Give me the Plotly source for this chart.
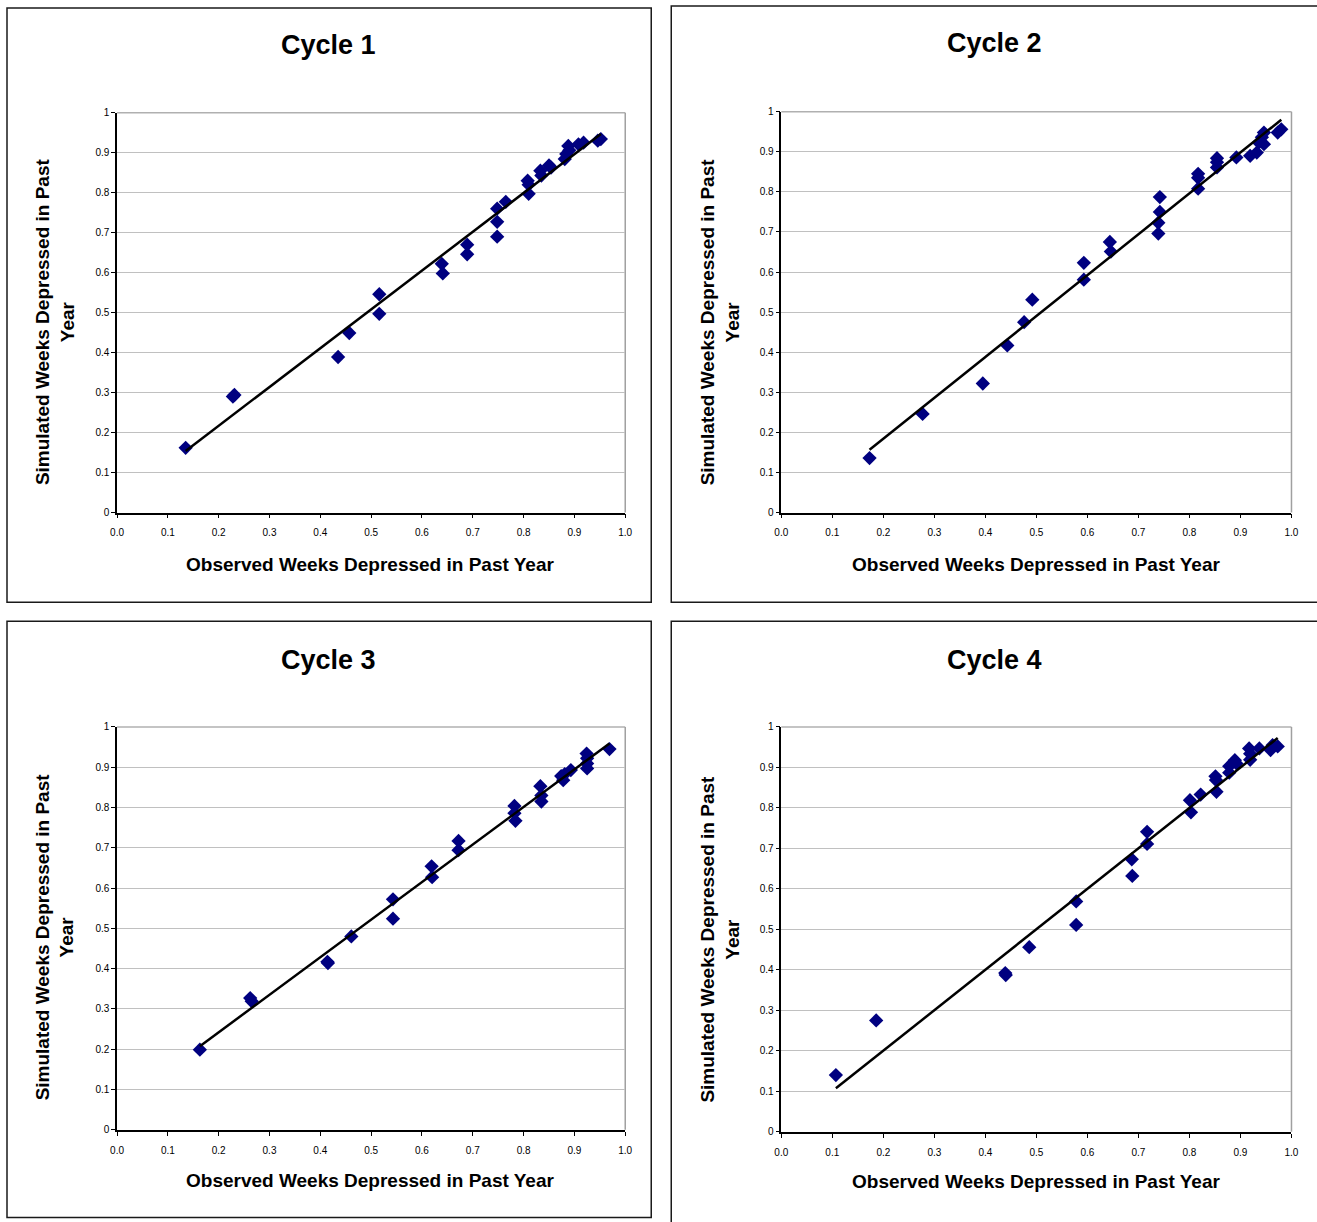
import numpy as np
import plotly.graph_objects as go

W, H = 1317, 1222

# ---------------- data ----------------
cycle_titles = ["Cycle 1", "Cycle 2", "Cycle 3", "Cycle 4"]
x_title = "Observed Weeks Depressed in Past Year"
y_title = "Simulated Weeks Depressed in Past<br>Year"

x_tick_vals = [0.0, 0.1, 0.2, 0.3, 0.4, 0.5, 0.6, 0.7, 0.8, 0.9, 1.0]
x_tick_text = ["0.0", "0.1", "0.2", "0.3", "0.4", "0.5", "0.6", "0.7", "0.8", "0.9", "1.0"]
y_tick_vals = [0.0, 0.1, 0.2, 0.3, 0.4, 0.5, 0.6, 0.7, 0.8, 0.9, 1.0]
y_tick_text = ["0", "0.1", "0.2", "0.3", "0.4", "0.5", "0.6", "0.7", "0.8", "0.9", "1"]

c1_obs = [0.135, 0.231, 0.228, 0.435, 0.457, 0.516, 0.516, 0.639, 0.641, 0.689, 0.689,
          0.748, 0.748, 0.748, 0.765, 0.808, 0.810, 0.810, 0.833, 0.835, 0.850, 0.854,
          0.881, 0.884, 0.888, 0.890, 0.908, 0.918, 0.946, 0.952]
c1_sim = [0.162, 0.294, 0.290, 0.389, 0.449, 0.546, 0.497, 0.622, 0.598, 0.670, 0.646,
          0.760, 0.727, 0.690, 0.777, 0.830, 0.820, 0.797, 0.855, 0.843, 0.868, 0.863,
          0.884, 0.897, 0.917, 0.906, 0.921, 0.925, 0.930, 0.934]

c2_obs = [0.173, 0.277, 0.395, 0.443, 0.476, 0.492, 0.593, 0.593, 0.644, 0.646,
          0.739, 0.739, 0.742, 0.742, 0.817, 0.817, 0.817, 0.854, 0.854, 0.854,
          0.892, 0.919, 0.932, 0.936, 0.942, 0.946, 0.946, 0.973, 0.980]
c2_sim = [0.136, 0.246, 0.322, 0.417, 0.475, 0.531, 0.581, 0.623, 0.675, 0.651,
          0.696, 0.723, 0.750, 0.787, 0.808, 0.835, 0.845, 0.861, 0.874, 0.884,
          0.886, 0.890, 0.898, 0.923, 0.936, 0.948, 0.919, 0.948, 0.956]

c3_obs = [0.163, 0.262, 0.265, 0.414, 0.415, 0.461, 0.543, 0.543, 0.619, 0.620,
          0.672, 0.672, 0.782, 0.782, 0.784, 0.833, 0.835, 0.835, 0.874, 0.878,
          0.881, 0.893, 0.924, 0.925, 0.925, 0.925, 0.969]
c3_sim = [0.199, 0.327, 0.319, 0.417, 0.414, 0.480, 0.572, 0.524, 0.654, 0.627,
          0.717, 0.694, 0.804, 0.786, 0.767, 0.853, 0.830, 0.815, 0.878, 0.868,
          0.883, 0.893, 0.934, 0.922, 0.909, 0.897, 0.945]

c4_obs = [0.107, 0.186, 0.439, 0.440, 0.486, 0.578, 0.578, 0.687, 0.688, 0.717,
          0.717, 0.801, 0.803, 0.822, 0.851, 0.852, 0.853, 0.878, 0.878, 0.889,
          0.892, 0.917, 0.919, 0.919, 0.937, 0.959, 0.963, 0.973]
c4_sim = [0.140, 0.275, 0.392, 0.387, 0.456, 0.569, 0.511, 0.673, 0.632, 0.741,
          0.711, 0.819, 0.789, 0.833, 0.878, 0.869, 0.840, 0.903, 0.887, 0.918,
          0.910, 0.947, 0.934, 0.919, 0.947, 0.943, 0.955, 0.952]

obs_series = [c1_obs, c2_obs, c3_obs, c4_obs]
sim_series = [c1_sim, c2_sim, c3_sim, c4_sim]

# ---------------- layout geometry (target pixels in the photo) ----------------
plot_px = [(117, 625, 112, 513), (781, 1291, 111, 513),
           (117, 625, 728, 1132), (781, 1291, 728, 1134)]
box_px = [(7, 651, 7, 603), (671, 1322, 5, 603),
          (7, 651, 622, 1220), (671, 1322, 622, 1228)]
title_px = [(328, 44), (994, 42), (328, 661), (994, 661)]
xtitle_px = [(370, 565), (1036, 565), (370, 1183), (1036, 1184)]
ytitle_px = [(55, 322), (720, 322), (55, 939), (720, 941)]

# the photographed page is slightly inset/scaled; compensate
OX, SX = 7.0, 0.989
OY, SY = 5.0, 0.993

def px(x):
    return ((x - OX) / SX) / W

def py(y):
    return 1 - ((y - OY) / SY) / H

FONT = "Arial, Liberation Sans, sans-serif"
NAVY = "#000080"

fig = go.Figure()
layout = dict(
    width=W, height=H, autosize=False,
    margin=dict(l=0, r=0, t=0, b=0),
    paper_bgcolor="white", plot_bgcolor="white",
    showlegend=False,
    font=dict(family=FONT, color="black"),
)
annotations = []
shapes = []

for i in range(4):
    n = "" if i == 0 else str(i + 1)
    xa, ya = "x" + n, "y" + n
    l, r, t, b = plot_px[i]
    xo = np.array(obs_series[i])
    yo = np.array(sim_series[i])

    fig.add_trace(go.Scatter(
        x=xo, y=yo, mode="markers", xaxis=xa, yaxis=ya,
        marker=dict(symbol="diamond", size=11, color=NAVY,
                    line=dict(width=0)),
        hoverinfo="x+y",
    ))
    # linear trendline (least squares), drawn across the observed range
    slope, icpt = np.polyfit(xo, yo, 1)
    xl = np.array([xo.min(), xo.max()])
    fig.add_trace(go.Scatter(
        x=xl, y=slope * xl + icpt, mode="lines", xaxis=xa, yaxis=ya,
        line=dict(color="black", width=2.5), hoverinfo="skip",
    ))

    layout["xaxis" + n] = dict(
        domain=[px(l), px(r)], anchor=ya, range=[0, 1],
        showgrid=False, zeroline=False,
        showline=True, linecolor="black", linewidth=1.5,
        ticks="outside", ticklen=4, tickcolor="black", tickwidth=1,
        tickvals=x_tick_vals, ticktext=x_tick_text,
        tickfont=dict(size=10, family=FONT, color="black"),
        ticklabelstandoff=6,
    )
    layout["yaxis" + n] = dict(
        domain=[py(b), py(t)], anchor=xa, range=[0, 1],
        showgrid=True, gridcolor="#c0c0c0", gridwidth=1, zeroline=False,
        showline=True, linecolor="black", linewidth=1.5,
        ticks="outside", ticklen=4, tickcolor="black", tickwidth=1,
        tickvals=y_tick_vals, ticktext=y_tick_text,
        tickfont=dict(size=10, family=FONT, color="black"),
    )

    shapes.append(dict(type="line", xref=xa + " domain", yref=ya + " domain",
                       x0=0, x1=1, y0=1, y1=1,
                       line=dict(color="#b0b0b0", width=1.5), layer="below"))
    shapes.append(dict(type="line", xref=xa + " domain", yref=ya + " domain",
                       x0=1, x1=1, y0=0, y1=1,
                       line=dict(color="#a0a0a0", width=1.5), layer="below"))
    bl, br, bt, bb = box_px[i]
    shapes.append(dict(type="rect", xref="paper", yref="paper",
                       x0=px(bl), x1=px(br), y0=py(bb), y1=py(bt),
                       line=dict(color="#1a1a1a", width=1.5), fillcolor="rgba(0,0,0,0)"))

    annotations.append(dict(
        text="<b>%s</b>" % cycle_titles[i], xref="paper", yref="paper",
        x=px(title_px[i][0]), y=py(title_px[i][1]),
        xanchor="center", yanchor="middle", showarrow=False,
        font=dict(size=27, family=FONT, color="black")))
    annotations.append(dict(
        text="<b>%s</b>" % x_title, xref="paper", yref="paper",
        x=px(xtitle_px[i][0]), y=py(xtitle_px[i][1]),
        xanchor="center", yanchor="middle", showarrow=False,
        font=dict(size=19, family=FONT, color="black")))
    annotations.append(dict(
        text="<b>%s</b>" % y_title, xref="paper", yref="paper",
        x=px(ytitle_px[i][0]), y=py(ytitle_px[i][1]),
        xanchor="center", yanchor="middle", showarrow=False, textangle=-90,
        font=dict(size=19, family=FONT, color="black")))

layout["annotations"] = annotations
layout["shapes"] = shapes
fig.update_layout(**layout)

fig.write_html(
    "out.html",
    config={"displayModeBar": False},
    post_script="document.body.style.margin='0';document.body.style.padding='0';"
                "document.body.style.overflow='hidden';"
                "document.documentElement.style.overflow='hidden';",
)
